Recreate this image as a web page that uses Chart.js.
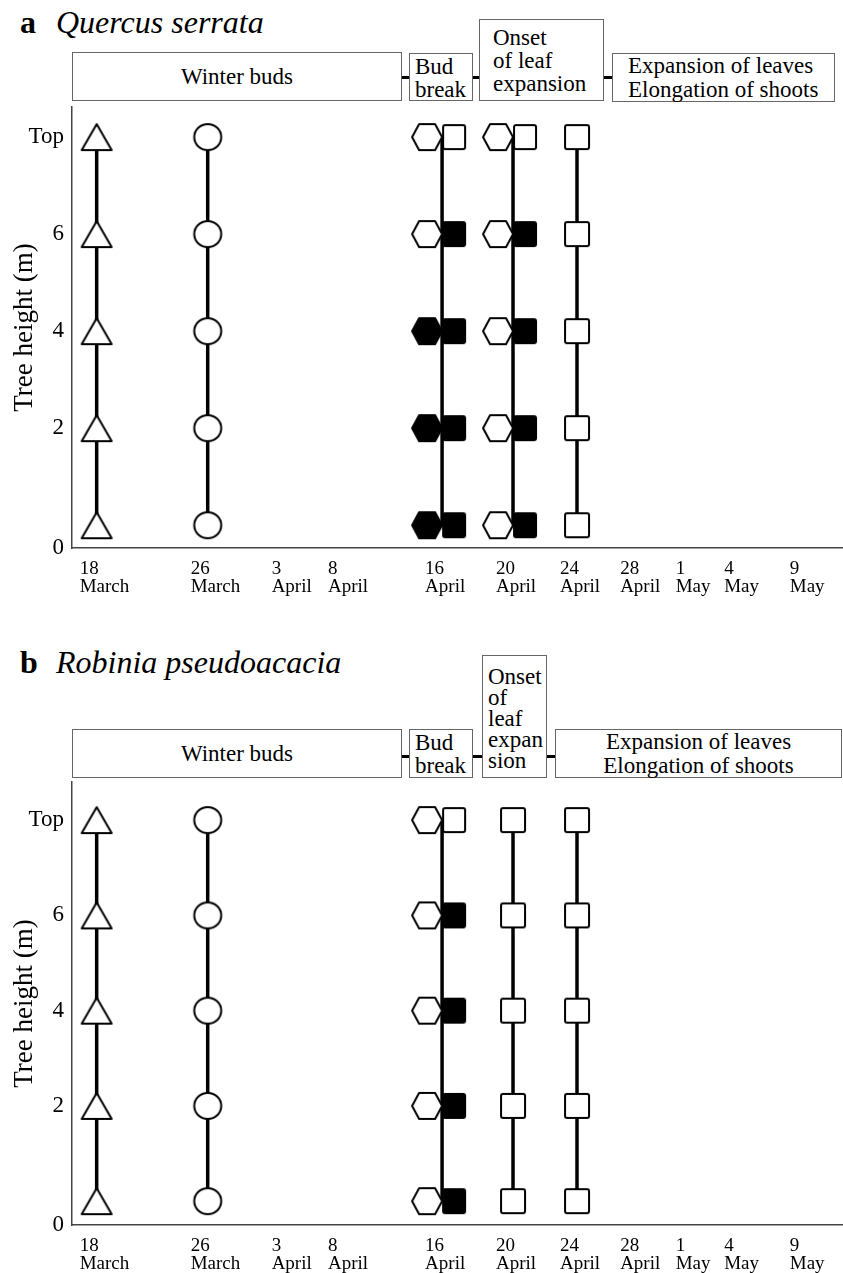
<!DOCTYPE html>
<html>
<head>
<meta charset="utf-8">
<script src="https://cdn.jsdelivr.net/npm/chart.js@4.4.1/dist/chart.umd.min.js"></script>
<style>
  body { margin: 0; background: #fff; font-family: "Liberation Serif", serif; color: #000; }
  #page { position: relative; width: 843px; height: 1273px; overflow: hidden; }
  .title { position: absolute; left: 20px; font-size: 32px; line-height: 1; white-space: nowrap; }
  .title b { display: inline-block; width: 36px; }
  .box { position: absolute; box-sizing: border-box; border: 1px solid #666; background: #fff;
         font-size: 23px; line-height: 23px; white-space: nowrap; }
  .center { display: flex; align-items: center; justify-content: center; }
  .dash { position: absolute; height: 3px; background: #000; }
  canvas { position: absolute; left: 0; }
</style>
</head>
<body>
<div id="page">
  <div class="title" style="top:6px"><b>a</b><i>Quercus serrata</i></div>
  <div class="box center" style="left:72px;top:52px;width:330px;height:49px">Winter buds</div>
  <div class="dash" style="left:402px;top:76px;width:7px"></div>
  <div class="box" style="left:409px;top:53px;width:64px;height:48px;padding:1px 0 0 5px">Bud<br>break</div>
  <div class="dash" style="left:473px;top:76px;width:6px"></div>
  <div class="box" style="left:479px;top:19px;width:125px;height:82px;padding:6px 0 0 13px">Onset<br>of leaf<br>expansion</div>
  <div class="dash" style="left:604px;top:76px;width:8px"></div>
  <div class="box" style="left:612px;top:53px;width:223px;height:49px;line-height:24px;padding:0 0 0 15px">Expansion of leaves<br>Elongation of shoots</div>
  <canvas id="chartA" width="843" height="500" style="top:100px"></canvas>

  <div class="title" style="top:646px"><b>b</b><i>Robinia pseudoacacia</i></div>
  <div class="box center" style="left:72px;top:729px;width:330px;height:49px">Winter buds</div>
  <div class="dash" style="left:402px;top:755px;width:7px"></div>
  <div class="box" style="left:409px;top:729px;width:64px;height:49px;padding:1px 0 0 5px">Bud<br>break</div>
  <div class="dash" style="left:473px;top:755px;width:9px"></div>
  <div class="box" style="left:482px;top:655px;width:65px;height:123px;line-height:21px;padding:10px 0 0 5px">Onset<br>of<br>leaf<br>expan<br>sion</div>
  <div class="dash" style="left:547px;top:755px;width:8px"></div>
  <div class="box" style="left:555px;top:729px;width:287px;height:49px;line-height:24px;text-align:center">Expansion of leaves<br>Elongation of shoots</div>
  <canvas id="chartB" width="843" height="498" style="top:775px"></canvas>
</div>

<script>
// Sampling dates along the x axis (positions, 0-100 axis units)
const dateLabels = [['18', 'March'], ['26', 'March'], ['3', 'April'], ['8', 'April'], ['16', 'April'],
                    ['20', 'April'], ['24', 'April'], ['28', 'April'], ['1', 'May'], ['4', 'May'], ['9', 'May']];
const datePos = [3.2, 17.6, 28.1, 35.4, 48.0, 57.2, 65.5, 73.3, 80.5, 86.8, 95.3];

// Sampling heights on the tree (bottom -> top, 8 = tree top)
const heightRows = [0, 2, 4, 6, 8];
const heightTickLabels = ['0', '2', '4', '6', 'Top'];

// Each column: [date index, symbol, state per height row] ; 1 = black symbol, 0 = open symbol
const quercusColumns = [
    [0, 'triangle', [0, 0, 0, 0, 0]],
    [1, 'circle', [0, 0, 0, 0, 0]],
    [4, 'hexagon', [1, 1, 1, 0, 0]],
    [4, 'squareRight', [1, 1, 1, 1, 0]],
    [5, 'hexagon', [0, 0, 0, 0, 0]],
    [5, 'squareRight', [1, 1, 1, 1, 0]],
    [6, 'square', [0, 0, 0, 0, 0]]
];

const robiniaColumns = [
    [0, 'triangle', [0, 0, 0, 0, 0]],
    [1, 'circle', [0, 0, 0, 0, 0]],
    [4, 'hexagon', [0, 0, 0, 0, 0]],
    [4, 'squareRight', [1, 1, 1, 1, 0]],
    [5, 'square', [0, 0, 0, 0, 0]],
    [6, 'square', [0, 0, 0, 0, 0]]
];

/**
 * Builds an image used as point style. Hexagons sit left of the stem, squares right of it.
 */
function makeMarker(kind, filled) {
    const c = document.createElement('canvas');
    const sizes = { triangle: [34, 30], circle: [32, 32], hexagon: [64, 30], squareRight: [52, 30], square: [28, 28] };
    c.width = sizes[kind][0];
    c.height = sizes[kind][1];
    const ctx = c.getContext('2d');
    ctx.lineWidth = 2;
    ctx.strokeStyle = '#000';
    ctx.fillStyle = filled ? '#000' : '#fff';
    ctx.lineJoin = 'round';
    ctx.beginPath();
    if (kind === 'triangle') {
        ctx.moveTo(17, 2); ctx.lineTo(32, 28); ctx.lineTo(2, 28); ctx.closePath();
    } else if (kind === 'circle') {
        ctx.ellipse(16, 16, 13.5, 13, 0, 0, Math.PI * 2);
    } else if (kind === 'hexagon') {
        ctx.moveTo(32, 15); ctx.lineTo(25, 2); ctx.lineTo(9, 2);
        ctx.lineTo(2, 15); ctx.lineTo(9, 28); ctx.lineTo(25, 28); ctx.closePath();
    } else if (kind === 'squareRight') {
        ctx.roundRect(27, 3, 22, 24, 2);
    } else {
        ctx.roundRect(2, 2, 24, 24, 2);
    }
    ctx.fill();
    ctx.stroke();
    return c;
}

const markers = {};
['triangle', 'circle', 'hexagon', 'squareRight', 'square'].forEach(k => {
    markers[k] = [makeMarker(k, false), makeMarker(k, true)];
});

function buildDatasets(columns) {
    const datasets = [];
    // one black stem per sampling date, under the symbols
    const stemDates = [...new Set(columns.map(col => col[0]))];
    stemDates.forEach(d => {
        datasets.push({
            data: heightRows.map(h => ({ x: datePos[d], y: h })),
            showLine: true,
            borderColor: '#000',
            borderWidth: 3.5,
            pointRadius: 0,
            order: 2
        });
    });
    columns.forEach(([d, kind, state]) => {
        datasets.push({
            data: heightRows.map(h => ({ x: datePos[d], y: h })),
            showLine: false,
            pointRadius: 6,
            pointStyle: state.map(s => markers[kind][s]),
            clip: false,
            order: 1
        });
    });
    return datasets;
}

// keep the plot area exactly where the axes are, no extra room for overflowing labels
function noPadding(s) {
    s.paddingTop = 0;
    s.paddingBottom = 0;
    s.paddingLeft = 0;
    s.paddingRight = 0;
}

function drawPanel(canvasId, columns, yMin, yMax, xAxisHeight) {
    new Chart(document.getElementById(canvasId), {
        type: 'scatter',
        data: { datasets: buildDatasets(columns) },
        options: {
            responsive: false,
            animation: false,
            events: [],
            layout: { padding: { top: 7, left: 0, right: 0, bottom: 0 }, autoPadding: false },
            plugins: { legend: { display: false }, tooltip: { enabled: false } },
            scales: {
                x: {
                    type: 'linear',
                    min: 0,
                    max: 100,
                    grid: { display: false, drawTicks: false },
                    border: { color: '#444', width: 1.5 },
                    afterBuildTicks: s => { s.ticks = datePos.map(v => ({ value: v })); },
                    afterFit: s => { s.height = xAxisHeight; noPadding(s); },
                    ticks: {
                        autoSkip: false,
                        maxRotation: 0,
                        align: 'start',
                        labelOffset: -17,
                        padding: 12,
                        color: '#000',
                        font: { family: 'Liberation Serif', size: 19, lineHeight: 0.95 },
                        callback: (v, i) => dateLabels[i]
                    }
                },
                y: {
                    type: 'linear',
                    min: yMin,
                    max: yMax,
                    grid: { display: false, drawTicks: false },
                    border: { color: '#444', width: 1.5 },
                    // the "0" label sits on the x axis line
                    afterBuildTicks: s => { s.ticks = [yMin, ...heightRows.slice(1)].map(v => ({ value: v })); },
                    afterFit: s => { s.width = 72; noPadding(s); },
                    ticks: {
                        padding: 8,
                        color: '#000',
                        font: { family: 'Liberation Serif', size: 23 },
                        callback: (v, i) => heightTickLabels[i]
                    },
                    title: {
                        display: true,
                        text: 'Tree height (m)',
                        color: '#000',
                        font: { family: 'Liberation Serif', size: 27 },
                        padding: { top: 9, bottom: 0 }
                    }
                }
            }
        }
    });
}

drawPanel('chartA', quercusColumns, -0.47, 8.62, 52);
drawPanel('chartB', robiniaColumns, -0.5, 8.8, 48);
</script>
</body>
</html>
